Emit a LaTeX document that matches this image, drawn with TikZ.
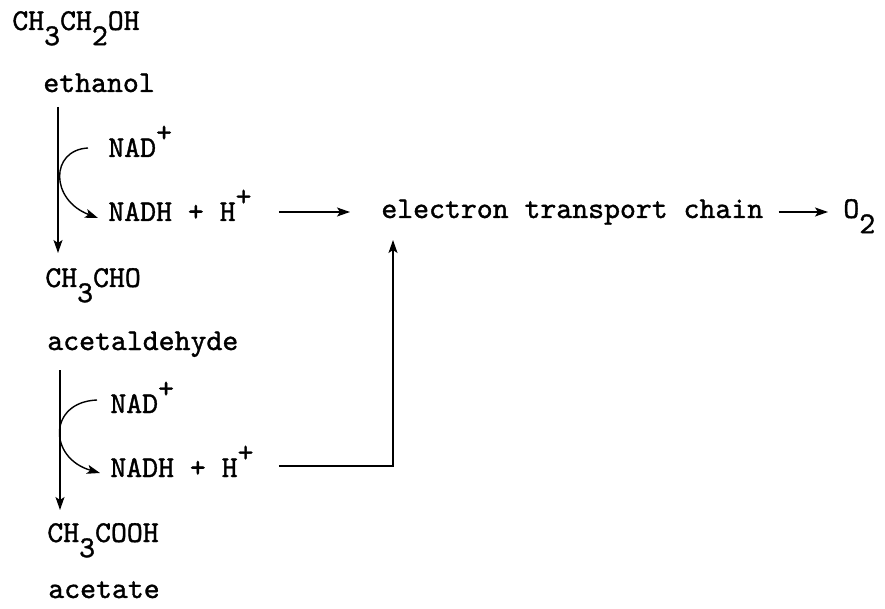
\documentclass[tikz,border=0pt]{standalone}
\usepackage{fontspec}
\setmonofont{lmmono10-regular.otf}[FakeBold=1.2]
\usetikzlibrary{arrows.meta}

\newcommand{\lowr}[1]{\raisebox{-0.5em}{#1}}
\newcommand{\upr}[1]{\raisebox{0.5em}{#1}}

\tikzset{every picture/.style={line width=0.75pt}}

\begin{document}
\begin{tikzpicture}[x=1pt,y=1pt,yscale=-1,xscale=1,
  chem/.style={anchor=base west,inner sep=0pt,font=\ttfamily\fontsize{30.3}{36}\selectfont},
  rxn/.style={line width=1.4pt,-{Stealth[length=13pt,width=9pt,inset=3pt]}}]
\useasboundingbox (0,0) rectangle (885,609);

% Text Node
\node[chem] (etoh) at (12,30) {CH\lowr{3}CH\lowr{2}OH};
% Text Node
\node[chem] (ethanol) at (43,92) {ethanol};
% Text Node
\node[chem] (nad1) at (108,157) {NAD\upr{+}};
% Text Node
\node[chem] (nadh1) at (108,221) {NADH + H\upr{+}};
% Text Node
\node[chem] (etc) at (381,218) {electron transport chain};
% Text Node
\node[chem] (oxy) at (843,218) {O\lowr{2}};
% Text Node
\node[chem] (acho) at (45,287) {CH\lowr{3}CHO};
% Text Node
\node[chem] (acetald) at (47,350) {acetaldehyde};
% Text Node
\node[chem] (nad2) at (110,413) {NAD\upr{+}};
% Text Node
\node[chem] (nadh2) at (110,477) {NADH + H\upr{+}};
% Text Node
\node[chem] (acooh) at (47,542) {CH\lowr{3}COOH};
% Text Node
\node[chem] (acetate) at (48,598) {acetate};

%Straight Lines
\draw[rxn] ([shift={(15,15)}]ethanol.base west) -- ([shift={(13,-34)}]acho.base west);
\draw[rxn] ([shift={(13,20)}]acetald.base west) -- ([shift={(13,-32)}]acooh.base west);
%Curves
\draw[rxn] ([shift={(-20,-9)}]nad1.base west) .. controls +(-38,2) and +(-48,-18) .. ([shift={(-10,-3)}]nadh1.base west);
\draw[rxn] ([shift={(-13,-13)}]nad2.base west) .. controls +(-49,2) and +(-52,-15) .. ([shift={(-10,-4)}]nadh2.base west);
%Straight Lines
\draw[rxn] ([shift={(27,-9)}]nadh1.base east) -- ([shift={(-31,-6)}]etc.base west);
\draw[rxn] ([shift={(15,-6)}]etc.base east) -- ([shift={(-15,-6)}]oxy.base west);
\draw[rxn] ([shift={(25,-11)}]nadh2.base east) -| ([shift={(12,22)}]etc.base west);

\end{tikzpicture}
\end{document}
